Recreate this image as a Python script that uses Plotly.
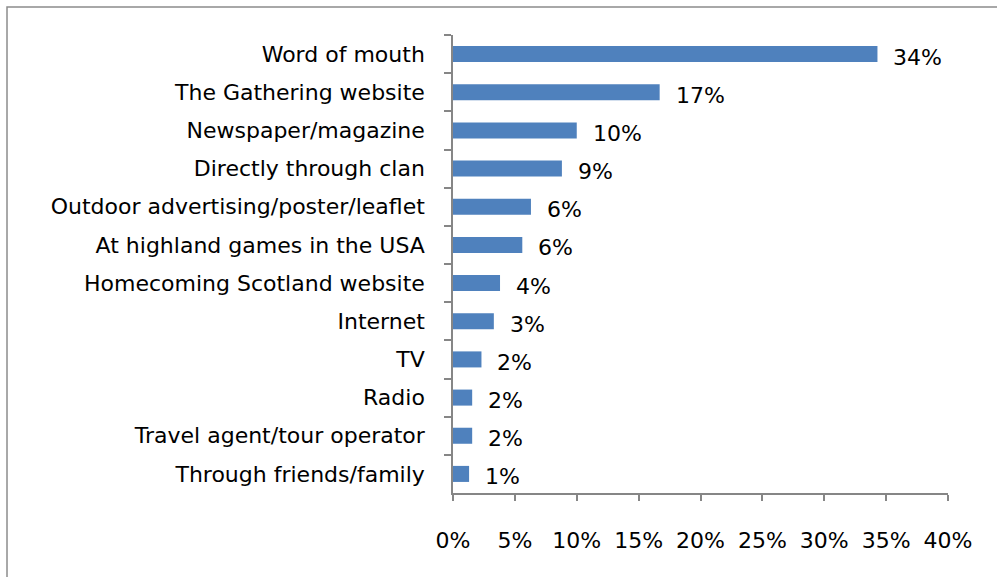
import plotly.graph_objects as go

# Where respondents heard about the event (share of responses), top to bottom
sources = [
    "Word of mouth",
    "The Gathering website",
    "Newspaper/magazine",
    "Directly through clan",
    "Outdoor advertising/poster/leaflet",
    "At highland games in the USA",
    "Homecoming Scotland website",
    "Internet",
    "TV",
    "Radio",
    "Travel agent/tour operator",
    "Through friends/family",
]
shares = [0.343, 0.167, 0.100, 0.088, 0.063, 0.056, 0.038, 0.033, 0.023, 0.0155, 0.0155, 0.013]

x_ticks = [0, 0.05, 0.10, 0.15, 0.20, 0.25, 0.30, 0.35, 0.40]

FONT = "DejaVu Sans"
SIZE = 22
BAR = "#4F81BD"
AXIS = "#868686"

fig = go.Figure(
    go.Bar(
        x=shares,
        y=sources,
        orientation="h",
        marker=dict(color=BAR, line=dict(width=0)),
        width=0.42,
        hoverinfo="x+y",
    )
)

# Value labels placed just past each bar's end
for src, val in zip(sources, shares):
    fig.add_annotation(
        x=val, y=src, xref="x", yref="y",
        text=f"{val * 100:.0f}%",
        showarrow=False, xanchor="left", yanchor="middle",
        xshift=14, yshift=-3,
        font=dict(family=FONT, size=SIZE, color="#000000"),
    )

# Outer chart frame
fig.add_shape(
    type="rect", xref="paper", yref="paper",
    x0=-0.901, x1=2.0, y0=-1.0, y1=1.061,
    line=dict(color="#8C8C8C", width=1.5),
    fillcolor="rgba(0,0,0,0)", layer="below",
)

fig.update_layout(
    width=997, height=577,
    margin=dict(l=453, r=49, t=35, b=84),
    paper_bgcolor="white", plot_bgcolor="white",
    showlegend=False,
    font=dict(family=FONT, size=SIZE, color="#000000"),
    xaxis=dict(
        range=[0, 0.4],
        tickvals=x_ticks,
        tickformat=".0%",
        showgrid=False, zeroline=False,
        showline=True, linecolor=AXIS, linewidth=1.5,
        ticks="outside", ticklen=6, tickcolor=AXIS, tickwidth=1.5,
        ticklabelstandoff=21,
        tickfont=dict(family=FONT, size=SIZE),
        fixedrange=True,
    ),
    yaxis=dict(
        type="category",
        autorange="reversed",
        showgrid=False, zeroline=False,
        showline=True, linecolor=AXIS, linewidth=1.5,
        ticks="outside", ticklen=7, tickcolor=AXIS, tickwidth=1.5,
        tickson="boundaries",
        ticklabelstandoff=22,
        tickfont=dict(family=FONT, size=SIZE),
        fixedrange=True,
    ),
)

fig.write_html("out.html")
